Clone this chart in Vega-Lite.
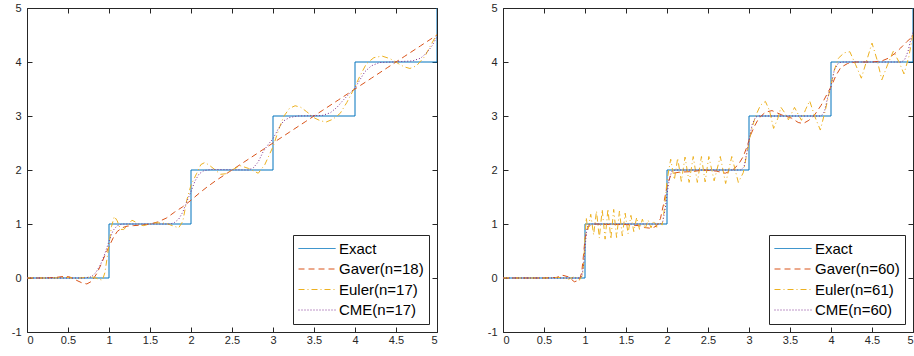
{
  "$schema": "https://vega.github.io/schema/vega-lite/v6.json",
  "background": "white",
  "padding": {"left": 11, "top": 2, "right": 0, "bottom": 0},
  "bounds": "flush",
  "spacing": 66,
  "config": {
    "font": "Liberation Sans",
    "view": {"stroke": null},
    "axis": {
      "grid": false,
      "title": null,
      "domainColor": "#262626",
      "domainWidth": 1,
      "tickColor": "#262626",
      "tickSize": -5,
      "tickWidth": 1,
      "labelColor": "#262626",
      "labelFont": "Liberation Sans",
      "labelFontSize": 11,
      "labelExpr": "'' + datum.value"
    },
    "legend": {
      "title": null,
      "orient": "bottom-right",
      "offset": 8,
      "strokeColor": "#262626",
      "fillColor": "white",
      "padding": 5,
      "symbolType": "stroke",
      "symbolSize": 1369,
      "symbolStrokeWidth": 1,
      "clipHeight": 17,
      "labelFont": "Liberation Sans",
      "labelFontSize": 15,
      "labelColor": "#000000",
      "labelOffset": 3,
      "rowPadding": 3.5
    }
  },
  "datasets": {
    "L": [
      {"s":"Exact","t":0,"v":0},{"s":"Exact","t":1,"v":0},{"s":"Exact","t":1,"v":1},{"s":"Exact","t":2,"v":1},{"s":"Exact","t":2,"v":2},{"s":"Exact","t":3,"v":2},{"s":"Exact","t":3,"v":3},{"s":"Exact","t":4,"v":3},{"s":"Exact","t":4,"v":4},{"s":"Exact","t":5,"v":4},{"s":"Exact","t":5,"v":5},
      {"s":"Gaver(n=18)","t":0,"v":0},{"s":"Gaver(n=18)","t":0.2,"v":0},{"s":"Gaver(n=18)","t":0.35,"v":0.01},{"s":"Gaver(n=18)","t":0.45,"v":0.03},{"s":"Gaver(n=18)","t":0.52,"v":0.02},{"s":"Gaver(n=18)","t":0.6,"v":-0.04},{"s":"Gaver(n=18)","t":0.67,"v":-0.09},{"s":"Gaver(n=18)","t":0.73,"v":-0.11},{"s":"Gaver(n=18)","t":0.79,"v":-0.06},{"s":"Gaver(n=18)","t":0.85,"v":0.08},{"s":"Gaver(n=18)","t":0.9,"v":0.24},{"s":"Gaver(n=18)","t":0.95,"v":0.42},{"s":"Gaver(n=18)","t":1.0,"v":0.58},{"s":"Gaver(n=18)","t":1.05,"v":0.74},{"s":"Gaver(n=18)","t":1.1,"v":0.86},{"s":"Gaver(n=18)","t":1.16,"v":0.93},{"s":"Gaver(n=18)","t":1.22,"v":0.96},{"s":"Gaver(n=18)","t":1.3,"v":0.97},{"s":"Gaver(n=18)","t":1.4,"v":0.98},{"s":"Gaver(n=18)","t":1.5,"v":1.0},{"s":"Gaver(n=18)","t":1.6,"v":1.04},{"s":"Gaver(n=18)","t":1.7,"v":1.11},{"s":"Gaver(n=18)","t":1.8,"v":1.22},{"s":"Gaver(n=18)","t":1.9,"v":1.32},{"s":"Gaver(n=18)","t":2.0,"v":1.44},{"s":"Gaver(n=18)","t":2.1,"v":1.57},{"s":"Gaver(n=18)","t":2.2,"v":1.69},{"s":"Gaver(n=18)","t":2.3,"v":1.8},{"s":"Gaver(n=18)","t":2.4,"v":1.9},{"s":"Gaver(n=18)","t":2.5,"v":2.0},{"s":"Gaver(n=18)","t":2.6,"v":2.1},{"s":"Gaver(n=18)","t":2.7,"v":2.2},{"s":"Gaver(n=18)","t":2.8,"v":2.3},{"s":"Gaver(n=18)","t":2.9,"v":2.4},{"s":"Gaver(n=18)","t":3.0,"v":2.5},{"s":"Gaver(n=18)","t":3.2,"v":2.7},{"s":"Gaver(n=18)","t":3.4,"v":2.9},{"s":"Gaver(n=18)","t":3.6,"v":3.1},{"s":"Gaver(n=18)","t":3.8,"v":3.3},{"s":"Gaver(n=18)","t":4.0,"v":3.5},{"s":"Gaver(n=18)","t":4.2,"v":3.7},{"s":"Gaver(n=18)","t":4.4,"v":3.9},{"s":"Gaver(n=18)","t":4.6,"v":4.1},{"s":"Gaver(n=18)","t":4.8,"v":4.3},{"s":"Gaver(n=18)","t":5.0,"v":4.5},
      {"s":"Euler(n=17)","t":0,"v":0},{"s":"Euler(n=17)","t":0.3,"v":0},{"s":"Euler(n=17)","t":0.5,"v":0.01},{"s":"Euler(n=17)","t":0.6,"v":-0.01},{"s":"Euler(n=17)","t":0.7,"v":0.01},{"s":"Euler(n=17)","t":0.8,"v":0.02},{"s":"Euler(n=17)","t":0.87,"v":-0.02},{"s":"Euler(n=17)","t":0.92,"v":-0.04},{"s":"Euler(n=17)","t":0.95,"v":0.1},{"s":"Euler(n=17)","t":0.98,"v":0.4},{"s":"Euler(n=17)","t":1.0,"v":0.62},{"s":"Euler(n=17)","t":1.03,"v":0.95},{"s":"Euler(n=17)","t":1.065,"v":1.14},{"s":"Euler(n=17)","t":1.1,"v":1.06},{"s":"Euler(n=17)","t":1.14,"v":0.9},{"s":"Euler(n=17)","t":1.18,"v":0.9},{"s":"Euler(n=17)","t":1.22,"v":0.96},{"s":"Euler(n=17)","t":1.28,"v":1.07},{"s":"Euler(n=17)","t":1.32,"v":1.04},{"s":"Euler(n=17)","t":1.36,"v":0.99},{"s":"Euler(n=17)","t":1.42,"v":0.97},{"s":"Euler(n=17)","t":1.5,"v":1.0},{"s":"Euler(n=17)","t":1.56,"v":1.02},{"s":"Euler(n=17)","t":1.65,"v":1.02},{"s":"Euler(n=17)","t":1.72,"v":1.0},{"s":"Euler(n=17)","t":1.79,"v":0.96},{"s":"Euler(n=17)","t":1.85,"v":0.93},{"s":"Euler(n=17)","t":1.9,"v":1.05},{"s":"Euler(n=17)","t":1.95,"v":1.45},{"s":"Euler(n=17)","t":2.0,"v":1.72},{"s":"Euler(n=17)","t":2.07,"v":1.94},{"s":"Euler(n=17)","t":2.12,"v":2.1},{"s":"Euler(n=17)","t":2.17,"v":2.14},{"s":"Euler(n=17)","t":2.23,"v":2.08},{"s":"Euler(n=17)","t":2.28,"v":2.02},{"s":"Euler(n=17)","t":2.36,"v":1.92},{"s":"Euler(n=17)","t":2.42,"v":1.93},{"s":"Euler(n=17)","t":2.5,"v":2.0},{"s":"Euler(n=17)","t":2.6,"v":2.08},{"s":"Euler(n=17)","t":2.7,"v":2.03},{"s":"Euler(n=17)","t":2.82,"v":1.94},{"s":"Euler(n=17)","t":2.9,"v":2.1},{"s":"Euler(n=17)","t":3.0,"v":2.43},{"s":"Euler(n=17)","t":3.07,"v":2.75},{"s":"Euler(n=17)","t":3.13,"v":2.99},{"s":"Euler(n=17)","t":3.2,"v":3.14},{"s":"Euler(n=17)","t":3.27,"v":3.19},{"s":"Euler(n=17)","t":3.34,"v":3.16},{"s":"Euler(n=17)","t":3.41,"v":3.08},{"s":"Euler(n=17)","t":3.51,"v":2.96},{"s":"Euler(n=17)","t":3.58,"v":2.91},{"s":"Euler(n=17)","t":3.65,"v":2.89},{"s":"Euler(n=17)","t":3.73,"v":2.94},{"s":"Euler(n=17)","t":3.82,"v":3.05},{"s":"Euler(n=17)","t":3.9,"v":3.25},{"s":"Euler(n=17)","t":3.98,"v":3.48},{"s":"Euler(n=17)","t":4.06,"v":3.74},{"s":"Euler(n=17)","t":4.14,"v":3.97},{"s":"Euler(n=17)","t":4.23,"v":4.08},{"s":"Euler(n=17)","t":4.33,"v":4.11},{"s":"Euler(n=17)","t":4.43,"v":4.06},{"s":"Euler(n=17)","t":4.53,"v":3.97},{"s":"Euler(n=17)","t":4.6,"v":3.91},{"s":"Euler(n=17)","t":4.67,"v":3.88},{"s":"Euler(n=17)","t":4.75,"v":3.93},{"s":"Euler(n=17)","t":4.85,"v":4.1},{"s":"Euler(n=17)","t":4.92,"v":4.3},{"s":"Euler(n=17)","t":5.0,"v":4.52},
      {"s":"CME(n=17)","t":0,"v":0},{"s":"CME(n=17)","t":0.7,"v":0},{"s":"CME(n=17)","t":0.78,"v":0.02},{"s":"CME(n=17)","t":0.84,"v":0.1},{"s":"CME(n=17)","t":0.9,"v":0.26},{"s":"CME(n=17)","t":0.95,"v":0.45},{"s":"CME(n=17)","t":1.0,"v":0.68},{"s":"CME(n=17)","t":1.05,"v":0.88},{"s":"CME(n=17)","t":1.1,"v":0.97},{"s":"CME(n=17)","t":1.16,"v":1.0},{"s":"CME(n=17)","t":1.75,"v":1.0},{"s":"CME(n=17)","t":1.8,"v":1.03},{"s":"CME(n=17)","t":1.85,"v":1.09},{"s":"CME(n=17)","t":1.9,"v":1.22},{"s":"CME(n=17)","t":1.95,"v":1.42},{"s":"CME(n=17)","t":2.0,"v":1.6},{"s":"CME(n=17)","t":2.05,"v":1.8},{"s":"CME(n=17)","t":2.1,"v":1.93},{"s":"CME(n=17)","t":2.16,"v":1.99},{"s":"CME(n=17)","t":2.25,"v":2.01},{"s":"CME(n=17)","t":2.7,"v":2.0},{"s":"CME(n=17)","t":2.76,"v":2.04},{"s":"CME(n=17)","t":2.82,"v":2.15},{"s":"CME(n=17)","t":2.88,"v":2.34},{"s":"CME(n=17)","t":2.94,"v":2.47},{"s":"CME(n=17)","t":3.0,"v":2.58},{"s":"CME(n=17)","t":3.06,"v":2.75},{"s":"CME(n=17)","t":3.13,"v":2.91},{"s":"CME(n=17)","t":3.2,"v":2.97},{"s":"CME(n=17)","t":3.3,"v":3.0},{"s":"CME(n=17)","t":3.6,"v":3.01},{"s":"CME(n=17)","t":3.7,"v":3.06},{"s":"CME(n=17)","t":3.78,"v":3.16},{"s":"CME(n=17)","t":3.86,"v":3.3},{"s":"CME(n=17)","t":3.93,"v":3.41},{"s":"CME(n=17)","t":4.0,"v":3.52},{"s":"CME(n=17)","t":4.06,"v":3.67},{"s":"CME(n=17)","t":4.12,"v":3.82},{"s":"CME(n=17)","t":4.2,"v":3.93},{"s":"CME(n=17)","t":4.3,"v":3.99},{"s":"CME(n=17)","t":4.45,"v":4.0},{"s":"CME(n=17)","t":4.7,"v":4.02},{"s":"CME(n=17)","t":4.8,"v":4.07},{"s":"CME(n=17)","t":4.88,"v":4.18},{"s":"CME(n=17)","t":4.94,"v":4.3},{"s":"CME(n=17)","t":5.0,"v":4.47}
    ],
    "R": [
      {"s":"Exact","t":0,"v":0},{"s":"Exact","t":1,"v":0},{"s":"Exact","t":1,"v":1},{"s":"Exact","t":2,"v":1},{"s":"Exact","t":2,"v":2},{"s":"Exact","t":3,"v":2},{"s":"Exact","t":3,"v":3},{"s":"Exact","t":4,"v":3},{"s":"Exact","t":4,"v":4},{"s":"Exact","t":5,"v":4},{"s":"Exact","t":5,"v":5},
      {"s":"Gaver(n=60)","t":0,"v":0},{"s":"Gaver(n=60)","t":0.5,"v":0},{"s":"Gaver(n=60)","t":0.65,"v":0.01},{"s":"Gaver(n=60)","t":0.73,"v":0.05},{"s":"Gaver(n=60)","t":0.8,"v":0.02},{"s":"Gaver(n=60)","t":0.87,"v":-0.07},{"s":"Gaver(n=60)","t":0.93,"v":-0.04},{"s":"Gaver(n=60)","t":0.96,"v":0.1},{"s":"Gaver(n=60)","t":0.98,"v":0.4},{"s":"Gaver(n=60)","t":1.0,"v":0.72},{"s":"Gaver(n=60)","t":1.03,"v":0.92},{"s":"Gaver(n=60)","t":1.07,"v":0.99},{"s":"Gaver(n=60)","t":1.12,"v":1.0},{"s":"Gaver(n=60)","t":1.3,"v":0.99},{"s":"Gaver(n=60)","t":1.5,"v":0.99},{"s":"Gaver(n=60)","t":1.65,"v":0.97},{"s":"Gaver(n=60)","t":1.75,"v":0.93},{"s":"Gaver(n=60)","t":1.81,"v":0.92},{"s":"Gaver(n=60)","t":1.87,"v":0.96},{"s":"Gaver(n=60)","t":1.92,"v":1.1},{"s":"Gaver(n=60)","t":1.96,"v":1.38},{"s":"Gaver(n=60)","t":2.0,"v":1.7},{"s":"Gaver(n=60)","t":2.04,"v":1.88},{"s":"Gaver(n=60)","t":2.08,"v":1.94},{"s":"Gaver(n=60)","t":2.15,"v":1.96},{"s":"Gaver(n=60)","t":2.3,"v":1.97},{"s":"Gaver(n=60)","t":2.45,"v":2.0},{"s":"Gaver(n=60)","t":2.6,"v":1.98},{"s":"Gaver(n=60)","t":2.71,"v":1.94},{"s":"Gaver(n=60)","t":2.8,"v":2.0},{"s":"Gaver(n=60)","t":2.87,"v":2.1},{"s":"Gaver(n=60)","t":2.93,"v":2.25},{"s":"Gaver(n=60)","t":2.98,"v":2.45},{"s":"Gaver(n=60)","t":3.02,"v":2.65},{"s":"Gaver(n=60)","t":3.07,"v":2.82},{"s":"Gaver(n=60)","t":3.12,"v":2.96},{"s":"Gaver(n=60)","t":3.2,"v":3.07},{"s":"Gaver(n=60)","t":3.28,"v":3.1},{"s":"Gaver(n=60)","t":3.4,"v":3.02},{"s":"Gaver(n=60)","t":3.52,"v":2.96},{"s":"Gaver(n=60)","t":3.6,"v":2.88},{"s":"Gaver(n=60)","t":3.66,"v":2.86},{"s":"Gaver(n=60)","t":3.73,"v":2.92},{"s":"Gaver(n=60)","t":3.8,"v":3.02},{"s":"Gaver(n=60)","t":3.88,"v":3.2},{"s":"Gaver(n=60)","t":3.95,"v":3.4},{"s":"Gaver(n=60)","t":4.01,"v":3.57},{"s":"Gaver(n=60)","t":4.06,"v":3.75},{"s":"Gaver(n=60)","t":4.12,"v":3.9},{"s":"Gaver(n=60)","t":4.2,"v":3.97},{"s":"Gaver(n=60)","t":4.3,"v":4.0},{"s":"Gaver(n=60)","t":4.5,"v":4.0},{"s":"Gaver(n=60)","t":4.62,"v":4.02},{"s":"Gaver(n=60)","t":4.7,"v":4.07},{"s":"Gaver(n=60)","t":4.78,"v":4.16},{"s":"Gaver(n=60)","t":4.85,"v":4.26},{"s":"Gaver(n=60)","t":4.92,"v":4.37},{"s":"Gaver(n=60)","t":5.0,"v":4.48},
      {"s":"Euler(n=61)","t":0,"v":0},{"s":"Euler(n=61)","t":0.5,"v":0},{"s":"Euler(n=61)","t":0.7,"v":0.01},{"s":"Euler(n=61)","t":0.8,"v":-0.02},{"s":"Euler(n=61)","t":0.88,"v":0.03},{"s":"Euler(n=61)","t":0.93,"v":-0.04},{"s":"Euler(n=61)","t":0.97,"v":0.05},{"s":"Euler(n=61)","t":0.985,"v":0.3},{"s":"Euler(n=61)","t":1.0,"v":0.75},{"s":"Euler(n=61)","t":1.015,"v":1.12},{"s":"Euler(n=61)","t":1.035,"v":0.88},{"s":"Euler(n=61)","t":1.07,"v":1.18},{"s":"Euler(n=61)","t":1.105,"v":0.8},{"s":"Euler(n=61)","t":1.14,"v":1.24},{"s":"Euler(n=61)","t":1.175,"v":0.74},{"s":"Euler(n=61)","t":1.21,"v":1.27},{"s":"Euler(n=61)","t":1.245,"v":0.72},{"s":"Euler(n=61)","t":1.28,"v":1.28},{"s":"Euler(n=61)","t":1.315,"v":0.72},{"s":"Euler(n=61)","t":1.35,"v":1.27},{"s":"Euler(n=61)","t":1.385,"v":0.75},{"s":"Euler(n=61)","t":1.42,"v":1.24},{"s":"Euler(n=61)","t":1.455,"v":0.78},{"s":"Euler(n=61)","t":1.49,"v":1.2},{"s":"Euler(n=61)","t":1.525,"v":0.82},{"s":"Euler(n=61)","t":1.56,"v":1.16},{"s":"Euler(n=61)","t":1.595,"v":0.86},{"s":"Euler(n=61)","t":1.63,"v":1.12},{"s":"Euler(n=61)","t":1.665,"v":0.9},{"s":"Euler(n=61)","t":1.7,"v":1.09},{"s":"Euler(n=61)","t":1.735,"v":0.92},{"s":"Euler(n=61)","t":1.77,"v":1.07},{"s":"Euler(n=61)","t":1.805,"v":0.93},{"s":"Euler(n=61)","t":1.84,"v":1.06},{"s":"Euler(n=61)","t":1.875,"v":0.94},{"s":"Euler(n=61)","t":1.91,"v":1.04},{"s":"Euler(n=61)","t":1.94,"v":0.98},{"s":"Euler(n=61)","t":1.97,"v":1.3},{"s":"Euler(n=61)","t":2.0,"v":1.8},{"s":"Euler(n=61)","t":2.045,"v":2.2},{"s":"Euler(n=61)","t":2.09,"v":1.82},{"s":"Euler(n=61)","t":2.13,"v":2.22},{"s":"Euler(n=61)","t":2.175,"v":1.79},{"s":"Euler(n=61)","t":2.22,"v":2.24},{"s":"Euler(n=61)","t":2.27,"v":1.77},{"s":"Euler(n=61)","t":2.32,"v":2.25},{"s":"Euler(n=61)","t":2.37,"v":1.77},{"s":"Euler(n=61)","t":2.42,"v":2.25},{"s":"Euler(n=61)","t":2.465,"v":1.78},{"s":"Euler(n=61)","t":2.51,"v":2.25},{"s":"Euler(n=61)","t":2.575,"v":1.8},{"s":"Euler(n=61)","t":2.65,"v":2.25},{"s":"Euler(n=61)","t":2.715,"v":1.75},{"s":"Euler(n=61)","t":2.79,"v":2.25},{"s":"Euler(n=61)","t":2.87,"v":1.77},{"s":"Euler(n=61)","t":2.93,"v":1.95},{"s":"Euler(n=61)","t":2.98,"v":2.35},{"s":"Euler(n=61)","t":3.03,"v":2.74},{"s":"Euler(n=61)","t":3.08,"v":3.0},{"s":"Euler(n=61)","t":3.14,"v":3.2},{"s":"Euler(n=61)","t":3.2,"v":3.27},{"s":"Euler(n=61)","t":3.25,"v":3.1},{"s":"Euler(n=61)","t":3.3,"v":2.77},{"s":"Euler(n=61)","t":3.35,"v":2.95},{"s":"Euler(n=61)","t":3.39,"v":3.16},{"s":"Euler(n=61)","t":3.44,"v":3.05},{"s":"Euler(n=61)","t":3.48,"v":2.93},{"s":"Euler(n=61)","t":3.52,"v":3.05},{"s":"Euler(n=61)","t":3.555,"v":3.16},{"s":"Euler(n=61)","t":3.6,"v":3.03},{"s":"Euler(n=61)","t":3.64,"v":2.92},{"s":"Euler(n=61)","t":3.69,"v":3.12},{"s":"Euler(n=61)","t":3.74,"v":3.28},{"s":"Euler(n=61)","t":3.8,"v":3.0},{"s":"Euler(n=61)","t":3.87,"v":2.74},{"s":"Euler(n=61)","t":3.93,"v":3.1},{"s":"Euler(n=61)","t":3.99,"v":3.51},{"s":"Euler(n=61)","t":4.04,"v":3.85},{"s":"Euler(n=61)","t":4.09,"v":4.07},{"s":"Euler(n=61)","t":4.16,"v":4.17},{"s":"Euler(n=61)","t":4.23,"v":4.19},{"s":"Euler(n=61)","t":4.3,"v":3.95},{"s":"Euler(n=61)","t":4.37,"v":3.7},{"s":"Euler(n=61)","t":4.44,"v":4.05},{"s":"Euler(n=61)","t":4.5,"v":4.35},{"s":"Euler(n=61)","t":4.56,"v":4.05},{"s":"Euler(n=61)","t":4.62,"v":3.67},{"s":"Euler(n=61)","t":4.69,"v":3.95},{"s":"Euler(n=61)","t":4.76,"v":4.2},{"s":"Euler(n=61)","t":4.83,"v":4.0},{"s":"Euler(n=61)","t":4.89,"v":3.78},{"s":"Euler(n=61)","t":4.95,"v":4.1},{"s":"Euler(n=61)","t":5.0,"v":4.53},
      {"s":"CME(n=60)","t":0,"v":0},{"s":"CME(n=60)","t":0.93,"v":0},{"s":"CME(n=60)","t":0.96,"v":0.03},{"s":"CME(n=60)","t":0.98,"v":0.2},{"s":"CME(n=60)","t":1.0,"v":0.55},{"s":"CME(n=60)","t":1.02,"v":0.88},{"s":"CME(n=60)","t":1.04,"v":0.99},{"s":"CME(n=60)","t":1.07,"v":1.0},{"s":"CME(n=60)","t":1.92,"v":1.0},{"s":"CME(n=60)","t":1.95,"v":1.05},{"s":"CME(n=60)","t":1.98,"v":1.3},{"s":"CME(n=60)","t":2.0,"v":1.55},{"s":"CME(n=60)","t":2.03,"v":1.85},{"s":"CME(n=60)","t":2.06,"v":1.98},{"s":"CME(n=60)","t":2.1,"v":2.0},{"s":"CME(n=60)","t":2.9,"v":2.0},{"s":"CME(n=60)","t":2.94,"v":2.06},{"s":"CME(n=60)","t":2.97,"v":2.3},{"s":"CME(n=60)","t":3.0,"v":2.55},{"s":"CME(n=60)","t":3.04,"v":2.85},{"s":"CME(n=60)","t":3.08,"v":2.98},{"s":"CME(n=60)","t":3.12,"v":3.0},{"s":"CME(n=60)","t":3.88,"v":3.0},{"s":"CME(n=60)","t":3.92,"v":3.08},{"s":"CME(n=60)","t":3.96,"v":3.35},{"s":"CME(n=60)","t":4.0,"v":3.55},{"s":"CME(n=60)","t":4.04,"v":3.85},{"s":"CME(n=60)","t":4.09,"v":3.98},{"s":"CME(n=60)","t":4.14,"v":4.0},{"s":"CME(n=60)","t":4.86,"v":4.0},{"s":"CME(n=60)","t":4.9,"v":4.05},{"s":"CME(n=60)","t":4.94,"v":4.2},{"s":"CME(n=60)","t":4.97,"v":4.4},{"s":"CME(n=60)","t":5.0,"v":4.55}
    ]
  },
  "hconcat": [
    {
      "data": {"name": "L"},
      "width": 410,
      "height": 324,
      "layer": [
        {
          "mark": {"type": "line", "strokeWidth": 1, "clip": true},
          "encoding": {
            "x": {"field": "t", "type": "quantitative", "scale": {"domain": [0, 5], "nice": false, "zero": false}, "axis": {"orient": "bottom", "values": [0, 0.5, 1, 1.5, 2, 2.5, 3, 3.5, 4, 4.5, 5], "labelPadding": 7}},
            "y": {"field": "v", "type": "quantitative", "scale": {"domain": [-1, 5], "nice": false, "zero": false}, "axis": {"orient": "left", "values": [-1, 0, 1, 2, 3, 4, 5], "labelPadding": 11}},
            "color": {"field": "s", "type": "nominal", "scale": {"domain": ["Exact", "Gaver(n=18)", "Euler(n=17)", "CME(n=17)"], "range": ["#0072BD", "#D95319", "#EDB120", "#7E2F8E"]}, "legend": {"title": null}},
            "strokeDash": {"field": "s", "type": "nominal", "scale": {"domain": ["Exact", "Gaver(n=18)", "Euler(n=17)", "CME(n=17)"], "range": [[1, 0], [6, 4], [6, 3, 1, 3], [1, 2]]}, "legend": {"title": null}},
            "order": {"value": null}
          }
        },
        {
          "mark": {"type": "point", "opacity": 0},
          "encoding": {
            "x": {"field": "t", "type": "quantitative", "axis": {"orient": "top", "labels": false, "values": [0, 0.5, 1, 1.5, 2, 2.5, 3, 3.5, 4, 4.5, 5]}},
            "y": {"field": "v", "type": "quantitative", "axis": {"orient": "right", "labels": false, "values": [-1, 0, 1, 2, 3, 4, 5]}}
          }
        }
      ],
      "resolve": {"axis": {"x": "independent", "y": "independent"}}
    },
    {
      "data": {"name": "R"},
      "width": 410,
      "height": 324,
      "layer": [
        {
          "mark": {"type": "line", "strokeWidth": 1, "clip": true},
          "encoding": {
            "x": {"field": "t", "type": "quantitative", "scale": {"domain": [0, 5], "nice": false, "zero": false}, "axis": {"orient": "bottom", "values": [0, 0.5, 1, 1.5, 2, 2.5, 3, 3.5, 4, 4.5, 5], "labelPadding": 7}},
            "y": {"field": "v", "type": "quantitative", "scale": {"domain": [-1, 5], "nice": false, "zero": false}, "axis": {"orient": "left", "values": [-1, 0, 1, 2, 3, 4, 5], "labelPadding": 11}},
            "color": {"field": "s", "type": "nominal", "scale": {"domain": ["Exact", "Gaver(n=60)", "Euler(n=61)", "CME(n=60)"], "range": ["#0072BD", "#D95319", "#EDB120", "#7E2F8E"]}, "legend": {"title": null}},
            "strokeDash": {"field": "s", "type": "nominal", "scale": {"domain": ["Exact", "Gaver(n=60)", "Euler(n=61)", "CME(n=60)"], "range": [[1, 0], [6, 4], [6, 3, 1, 3], [1, 2]]}, "legend": {"title": null}},
            "order": {"value": null}
          }
        },
        {
          "mark": {"type": "point", "opacity": 0},
          "encoding": {
            "x": {"field": "t", "type": "quantitative", "axis": {"orient": "top", "labels": false, "values": [0, 0.5, 1, 1.5, 2, 2.5, 3, 3.5, 4, 4.5, 5]}},
            "y": {"field": "v", "type": "quantitative", "axis": {"orient": "right", "labels": false, "values": [-1, 0, 1, 2, 3, 4, 5]}}
          }
        }
      ],
      "resolve": {"axis": {"x": "independent", "y": "independent"}}
    }
  ],
  "resolve": {"scale": {"color": "independent", "strokeDash": "independent"}, "legend": {"color": "independent", "strokeDash": "independent"}}
}
